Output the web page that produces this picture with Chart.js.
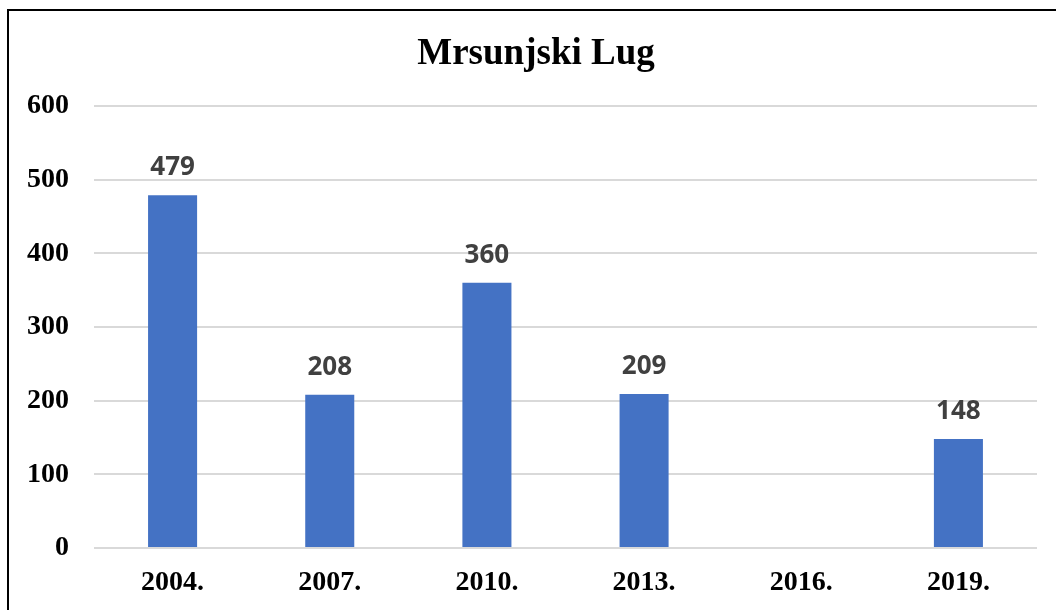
<!DOCTYPE html>
<html>
<head>
<meta charset="utf-8">
<script src="https://cdn.jsdelivr.net/npm/chart.js@4"></script>
<style>
  html, body { margin: 0; padding: 0; background: #fff; }
  #wrap { position: relative; width: 1056px; height: 610px; }
  #frame {
    position: absolute; left: 7px; top: 9px; right: -2px; bottom: -2px;
    border-left: 2px solid #000; border-top: 2px solid #000;
    pointer-events: none;
  }
</style>
</head>
<body>
<div id="wrap">
  <canvas id="chart" width="1056" height="610"></canvas>
  <div id="frame"></div>
</div>
<script>
// Data
const years = ['2004.', '2007.', '2010.', '2013.', '2016.', '2019.'];
const counts = [479, 208, 360, 209, null, 148];
const yTicks = [0, 100, 200, 300, 400, 500, 600];
const chartTitle = 'Mrsunjski Lug';

// Title drawn by hand so it can sit centred on the whole frame
const titlePlugin = {
  id: 'frameTitle',
  afterDraw(chart) {
    const ctx = chart.ctx;
    ctx.save();
    ctx.font = 'bold 37px "Liberation Serif"';
    ctx.fillStyle = '#000';
    ctx.textAlign = 'center';
    ctx.textBaseline = 'alphabetic';
    ctx.fillText(chartTitle, 536, 64);
    ctx.restore();
  }
};

// Value labels above each bar
const barLabels = {
  id: 'barLabels',
  afterDatasetsDraw(chart) {
    const ctx = chart.ctx;
    const meta = chart.getDatasetMeta(0);
    ctx.save();
    ctx.font = 'bold 26px "Open Sans"';
    ctx.fillStyle = '#404040';
    ctx.textAlign = 'center';
    ctx.textBaseline = 'alphabetic';
    meta.data.forEach((bar, i) => {
      if (counts[i] == null) return;
      ctx.fillText(String(counts[i]), bar.x, bar.y - 20);
    });
    ctx.restore();
  }
};

new Chart(document.getElementById('chart'), {
  type: 'bar',
  data: {
    labels: years,
    datasets: [{
      data: counts,
      backgroundColor: '#4472C4',
      barPercentage: 0.312,
      categoryPercentage: 1
    }]
  },
  options: {
    responsive: false,
    animation: false,
    layout: { padding: { left: 0, right: 19, top: 106, bottom: 0 } },
    plugins: {
      legend: { display: false },
      tooltip: { enabled: false },
      title: { display: false }
    },
    scales: {
      x: {
        grid: { display: false, drawTicks: false },
        border: { display: false },
        ticks: {
          color: '#000',
          padding: 18,
          font: { family: '"Liberation Serif"', size: 28, weight: 'bold', lineHeight: 1.2 }
        },
        afterFit(scale) { scale.height = 62; }
      },
      y: {
        min: 0,
        max: 600,
        afterBuildTicks(scale) { scale.ticks = yTicks.map(v => ({ value: v })); },
        grid: { color: '#d9d9d9', lineWidth: 2, drawTicks: false },
        border: { display: false },
        ticks: {
          color: '#000',
          padding: 25,
          font: { family: '"Liberation Serif"', size: 28, weight: 'bold' }
        },
        afterFit(scale) { scale.width = 94; }
      }
    }
  },
  plugins: [barLabels, titlePlugin]
});
</script>
</body>
</html>
